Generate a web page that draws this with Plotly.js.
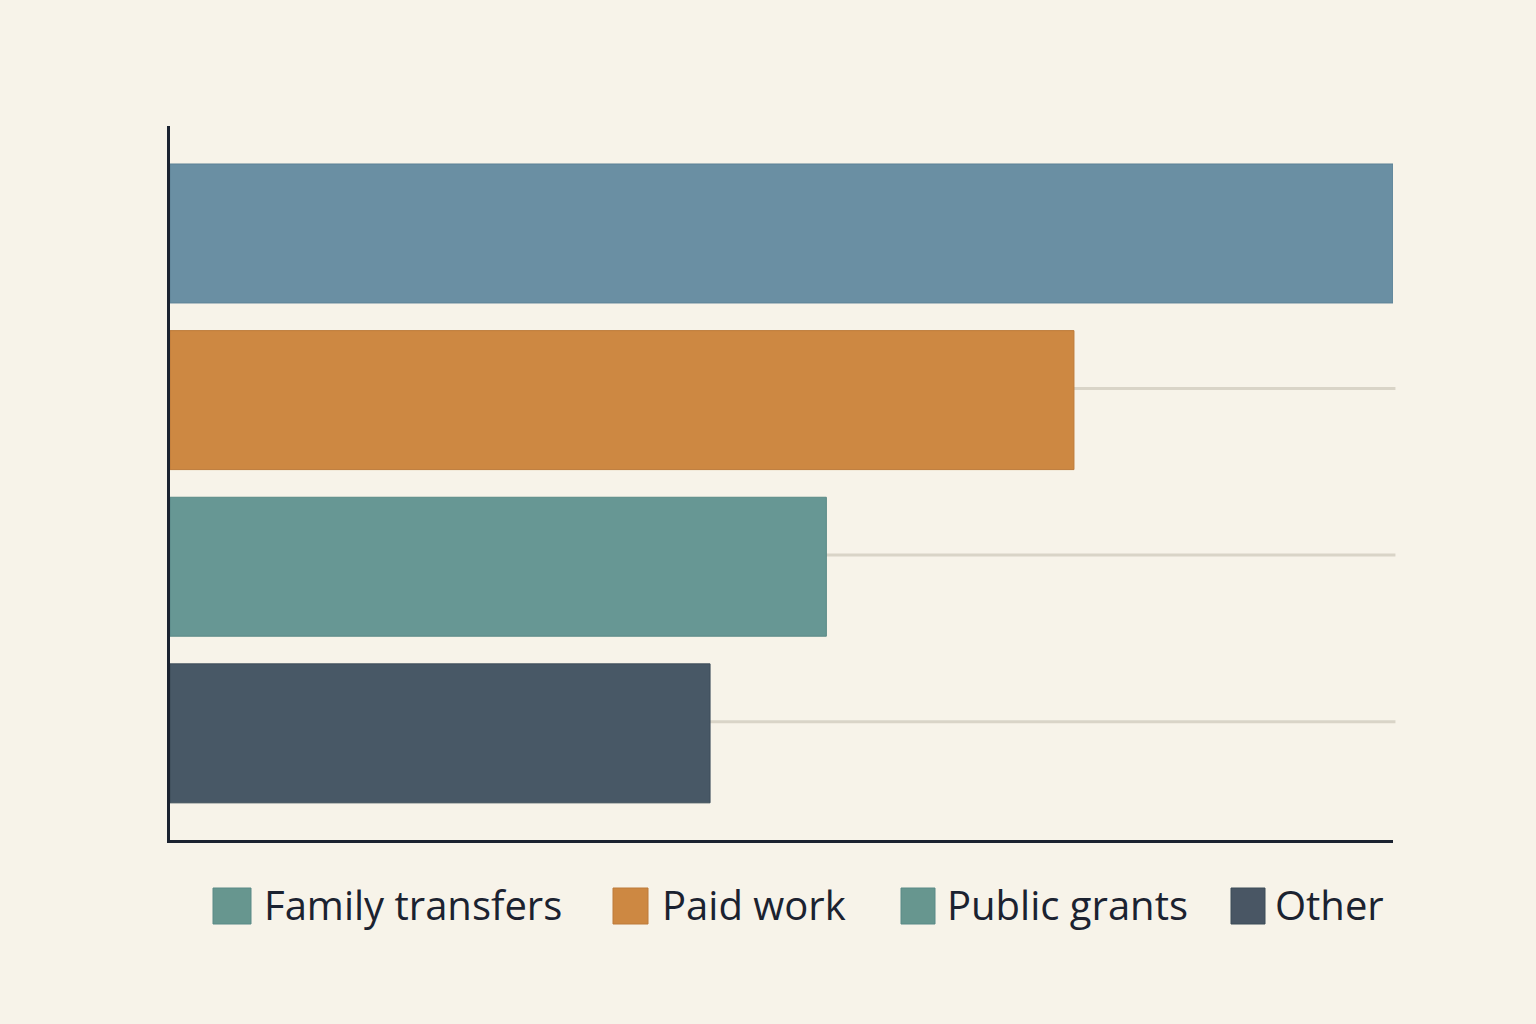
<!DOCTYPE html>
<html>
<head>
<meta charset="utf-8">
<script src="https://cdn.plot.ly/plotly-3.0.1.min.js"></script>
<style>
  html, body { margin: 0; padding: 0; background: #f7f3e9; }
  #chart { width: 1536px; height: 1024px; }
</style>
</head>
<body>
<div id="chart"></div>
<script>
// Income sources, share of total (%)
const categories = ['Family transfers', 'Paid work', 'Public grants', 'Other'];
const values = [36.8, 27.2, 19.75, 16.25];
const barColors = ['#6a8fa3', '#cd8842', '#679794', '#485866'];
const barEdges = ['#5e8397', '#bd7b3a', '#5b8a87', '#3d4c59'];

// Legend entries along the bottom
const legendLabels = ['Family transfers', 'Paid work', 'Public grants', 'Other'];
const legendColors = ['#67968f', '#cd8842', '#67968f', '#495664'];

const W = 1536, H = 1024;
const M = { l: 170, r: 143, t: 126, b: 184 };
const plotW = W - M.l - M.r, plotH = H - M.t - M.b;
const px = x => (x - M.l) / plotW;          // page pixel -> paper x
const py = y => (H - M.b - y) / plotH;      // page pixel -> paper y

const ink = '#1b2230';

const trace = {
  type: 'bar',
  orientation: 'h',
  y: categories,
  x: values,
  marker: { color: barColors, line: { color: barEdges, width: 1 } },
  hoverinfo: 'y+x',
  showlegend: false
};

const shapes = [];
// light reference lines sitting just above each category centre (the top one is hidden by its bar)
for (let i = 1; i < categories.length; i++) {
  shapes.push({
    type: 'line', layer: 'below',
    xref: 'paper', yref: 'y',
    x0: 0, x1: 1.002, y0: i - 0.07, y1: i - 0.07,
    line: { color: '#d9d4c7', width: 3 }
  });
}

// hand-built legend: square swatches plus labels
const swatchX = [[213, 251], [613, 648], [901, 935], [1231, 1265]];
const labelX = [262, 660, 945, 1273];
const annotations = [];
legendLabels.forEach((lab, i) => {
  shapes.push({
    type: 'rect', xref: 'paper', yref: 'paper',
    x0: px(swatchX[i][0]), x1: px(swatchX[i][1]),
    y0: py(924), y1: py(888),
    fillcolor: legendColors[i],
    line: { color: barEdges[i === 0 ? 2 : i], width: 1 }
  });
  annotations.push({
    xref: 'paper', yref: 'paper',
    x: px(labelX[i]), y: py(905),
    xanchor: 'left', yanchor: 'middle',
    text: lab, showarrow: false,
    font: { family: 'Open Sans, sans-serif', size: 40, color: ink }
  });
});

const layout = {
  width: W, height: H,
  margin: M,
  paper_bgcolor: '#f7f3e9',
  plot_bgcolor: '#f7f3e9',
  bargap: 0.166,
  showlegend: false,
  xaxis: {
    range: [0, Math.max(...values)],
    showgrid: false, zeroline: false, showticklabels: false, ticks: '',
    showline: true, linecolor: ink, linewidth: 3, fixedrange: true
  },
  yaxis: {
    type: 'category',
    categoryorder: 'array', categoryarray: categories,
    range: [3.64, -0.645],
    showgrid: false, zeroline: false, showticklabels: false, ticks: '',
    showline: true, linecolor: ink, linewidth: 3, fixedrange: true
  },
  shapes: shapes,
  annotations: annotations
};

Plotly.newPlot('chart', [trace], layout, { displayModeBar: false, staticPlot: true });
</script>
</body>
</html>
